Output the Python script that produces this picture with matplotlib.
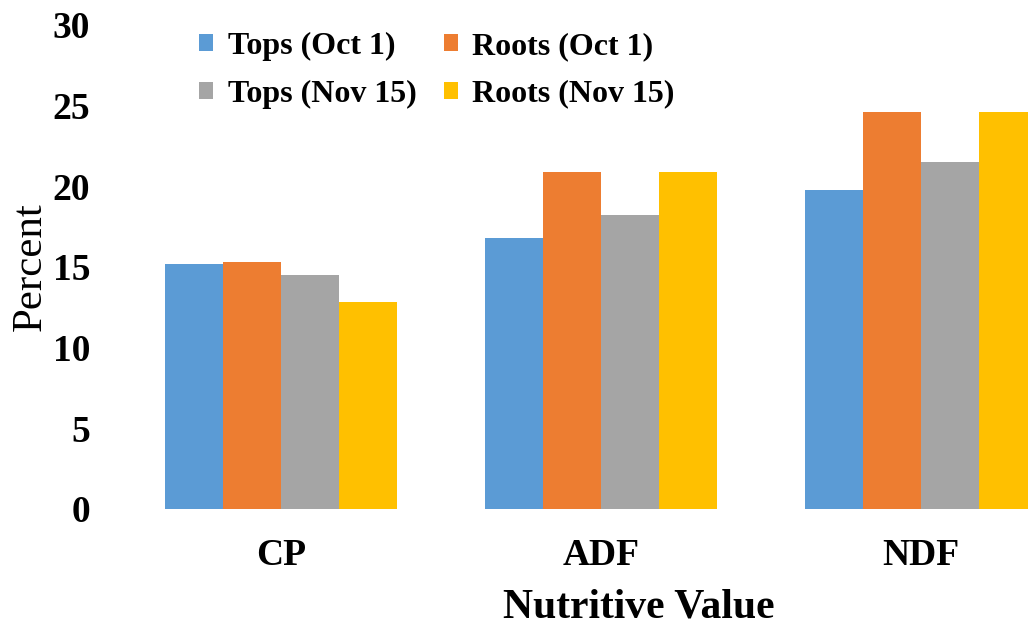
import numpy as np
import matplotlib.pyplot as plt

# Data
categories = ["CP", "ADF", "NDF"]
series = ["Tops (Oct 1)", "Roots (Oct 1)", "Tops (Nov 15)", "Roots (Nov 15)"]
tops_oct1 = [15.2, 16.8, 19.8]
roots_oct1 = [15.3, 20.9, 24.6]
tops_nov15 = [14.5, 18.2, 21.5]
roots_nov15 = [12.8, 20.9, 24.6]
colors = ["#5B9BD5", "#ED7D31", "#A5A5A5", "#FFC000"]

plt.rcParams["font.family"] = ["Liberation Serif", "DejaVu Serif"]

fig = plt.figure(figsize=(10.28, 6.33), dpi=100)
ax = fig.add_axes([115 / 1028, (633 - 509) / 633, (1028 - 115) / 1028, (509 - 25) / 633])

x = np.arange(len(categories))
w = 0.18125
values = [tops_oct1, roots_oct1, tops_nov15, roots_nov15]
bars = []
for i, (name, vals) in enumerate(zip(series, values)):
    bars.append(ax.bar(x + (i - 1.5) * w, vals, width=w, color=colors[i], label=name))

ax.set_ylim(0, 30)
ax.set_xlim((115 - 281) / 320, (1028 - 281) / 320)
ax.set_yticks([0, 5, 10, 15, 20, 25, 30])
ax.set_xticks(x)
ax.set_xticklabels(categories)
for s in ax.spines.values():
    s.set_visible(False)
ax.tick_params(length=0)
ax.tick_params(axis="y", pad=18, labelsize=27)
ax.tick_params(axis="x", pad=21, labelsize=27)
for lab in ax.get_xticklabels() + ax.get_yticklabels():
    lab.set_fontweight("bold")

ax.set_ylabel("Percent", fontsize=31, labelpad=2)
ax.set_xlabel("Nutritive Value", fontsize=30, fontweight="bold", labelpad=11)
ax.xaxis.set_label_coords((639 - 115) / 913, -0.165)

# legend filled row by row like the original
order = [0, 2, 1, 3]
ax.legend([bars[k] for k in order], [series[k] for k in order],
          loc="upper left", bbox_to_anchor=(199 / 1028, 1 - 32 / 633),
          bbox_transform=fig.transFigure, ncol=2, frameon=False,
          prop={"weight": "bold", "size": 23}, handlelength=0.45, handleheight=0.45,
          handletextpad=0.45, columnspacing=0.85, labelspacing=0.58,
          borderpad=0, borderaxespad=0)

fig.savefig("out.png", dpi=100)
